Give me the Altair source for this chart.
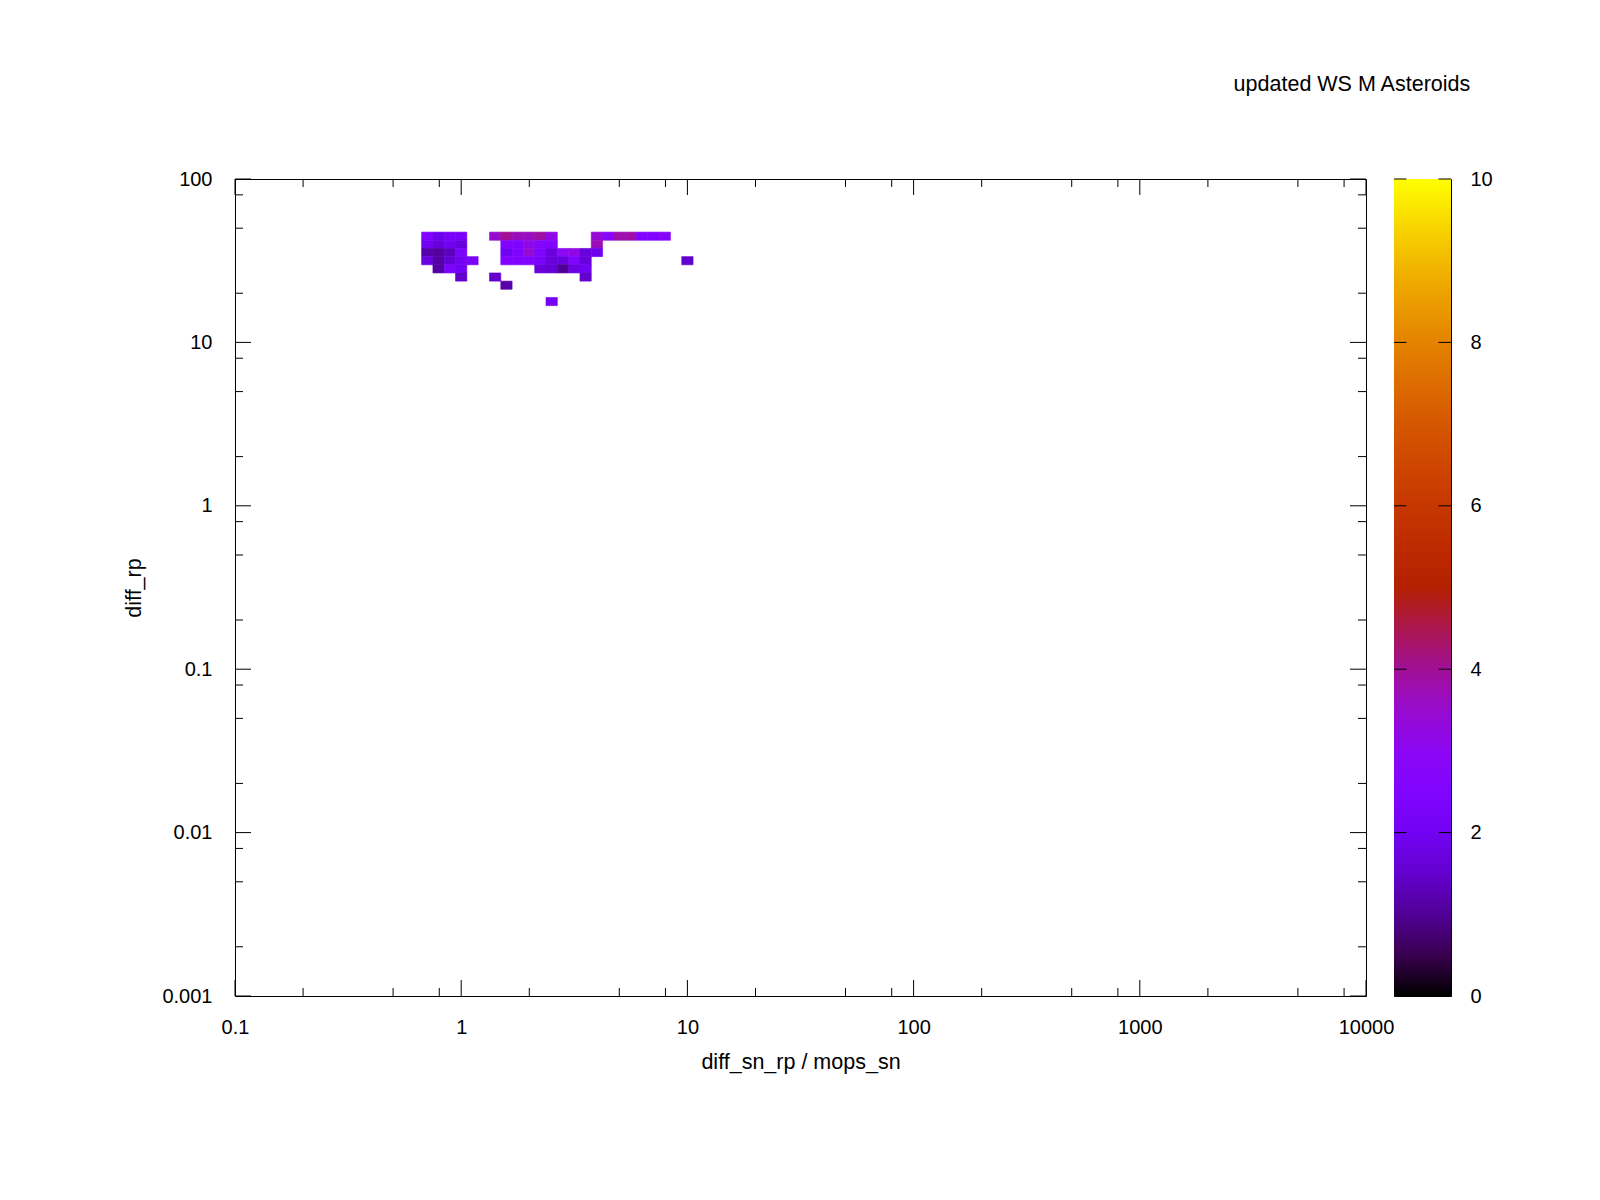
import altair as alt
import numpy as np
import pandas as pd

FONT = "Liberation Sans"

TITLE = "updated WS M Asteroids"
X_TITLE = "diff_sn_rp / mops_sn"
Y_TITLE = "diff_rp"

X_DOMAIN = [0.1, 10000]
Y_DOMAIN = [0.001, 100]
CB_DOMAIN = [0, 10]

X_MAJOR = [0.1, 1, 10, 100, 1000, 10000]
Y_MAJOR = [0.001, 0.01, 0.1, 1, 10, 100]
CB_TICKS = [0, 2, 4, 6, 8, 10]
MINOR_STEPS = [2, 5, 8]

# 2d histogram, bins 0.05 wide in log10 on both axes
BIN = 0.05
X_FIRST = -0.15  # log10 centre of column 0
Y_FIRST = 1.65   # log10 centre of row 0 (top row)

ROW = (
    [0] * 17
    + [1] * 10
    + [2] * 13
    + [3] * 14
    + [4] * 8
    + [5] * 3
    + [6]
    + [8]
)
COL = [
    0, 1, 2, 3, 6, 7, 8, 9, 10, 11, 15, 16, 17, 18, 19, 20, 21,
    0, 1, 2, 3, 7, 8, 9, 10, 11, 15,
    0, 1, 2, 3, 7, 8, 9, 10, 11, 12, 13, 14, 15,
    0, 1, 2, 3, 4, 7, 8, 9, 10, 11, 12, 13, 14, 23,
    1, 2, 3, 10, 11, 12, 13, 14,
    3, 6, 14,
    7,
    11,
]
VAL = [
    2.5, 1.9, 2.2, 2.2, 3.5, 4.0, 3.7, 3.6, 3.9, 3.2, 3.4, 2.8, 3.8, 3.8, 2.5, 2.5, 2.8,
    2.0, 1.7, 2.0, 1.7, 2.5, 2.5, 3.2, 2.7, 2.5, 3.7,
    1.15, 1.1, 1.35, 2.3, 2.0, 2.5, 3.4, 2.5, 1.7, 3.0, 3.2, 1.7, 1.9,
    1.8, 1.15, 1.6, 2.0, 2.3, 2.5, 2.5, 2.5, 2.3, 1.7, 1.7, 2.5, 1.7, 1.5,
    1.15, 2.3, 2.0, 1.7, 1.6, 1.0, 1.8, 2.0,
    1.5, 1.5, 1.5,
    1.2,
    2.1,
]

# gnuplot default pm3d palette (rgbformulae 7,5,15), sampled every 0.5
PALETTE = [
    "#000000", "#39004f", "#510096", "#6301ce", "#7202f3", "#8004ff", "#8c07f3",
    "#970bce", "#a11096", "#ab174f", "#b42000", "#bd2a00", "#c63700", "#ce4600",
    "#d55700", "#dd6c00", "#e48300", "#eb9d00", "#f2ba00", "#f9db00", "#ffff00",
]

W, H = 1131, 817
CB_W = 57
MAJOR_LEN, MINOR_LEN, CB_TICK_LEN = 16, 8, 12.5
LABEL_SIZE, TITLE_SIZE = 20, 21.5


def minor(majors):
    return [d * m for d in majors[:-1] for m in MINOR_STEPS]


cells = pd.DataFrame({"row": ROW, "col": COL, "count": VAL})
lx = X_FIRST + cells["col"] * BIN
ly = Y_FIRST - cells["row"] * BIN
cells["x_lo"] = 10 ** (lx - BIN / 2)
cells["x_hi"] = 10 ** (lx + BIN / 2)
cells["y_lo"] = 10 ** (ly - BIN / 2)
cells["y_hi"] = 10 ** (ly + BIN / 2)

x_scale = alt.Scale(type="log", domain=X_DOMAIN, nice=False)
y_scale = alt.Scale(type="log", domain=Y_DOMAIN, nice=False)
cb_scale = alt.Scale(domain=CB_DOMAIN, nice=False)
color_scale = alt.Scale(
    domain=list(np.linspace(CB_DOMAIN[0], CB_DOMAIN[1], len(PALETTE))),
    range=PALETTE,
    interpolate="rgb",
)

heat = alt.Chart(cells).mark_rect(strokeWidth=0.6).encode(
    x=alt.X(
        "x_lo:Q",
        scale=x_scale,
        axis=alt.Axis(
            values=X_MAJOR, format="~g", ticks=False, tickSize=0, domain=False, grid=False,
            labelFontSize=LABEL_SIZE, labelPadding=21.5, labelFlush=False,
            title=X_TITLE, titleFontSize=TITLE_SIZE, titleFontWeight="normal", titlePadding=14,
        ),
    ),
    x2="x_hi",
    y=alt.Y(
        "y_lo:Q",
        scale=y_scale,
        axis=alt.Axis(
            values=Y_MAJOR, format="~g", ticks=False, tickSize=0, domain=False, grid=False,
            labelFontSize=LABEL_SIZE, labelPadding=23, labelFlush=False,
            title=Y_TITLE, titleFontSize=TITLE_SIZE, titleFontWeight="normal",
            titleX=-101, titleBaseline="middle",
        ),
    ),
    y2="y_hi",
    color=alt.Color("count:Q", scale=color_scale, legend=None),
    stroke=alt.Stroke("count:Q", scale=color_scale, legend=None),
)


def x_ticks(values, size):
    base = alt.Chart(pd.DataFrame({"v": values})).mark_rule(color="black", strokeWidth=1)
    x = alt.X("v:Q", scale=x_scale)
    bottom = base.encode(x=x, y=alt.value(H), y2=alt.value(H - size))
    top = base.encode(x=x, y=alt.value(0), y2=alt.value(size))
    return [bottom, top]


def y_ticks(values, size, width, scale):
    base = alt.Chart(pd.DataFrame({"v": values})).mark_rule(color="black", strokeWidth=1)
    y = alt.Y("v:Q", scale=scale)
    left = base.encode(y=y, x=alt.value(0), x2=alt.value(size))
    right = base.encode(y=y, x=alt.value(width), x2=alt.value(width - size))
    return [left, right]


main = alt.layer(
    heat,
    *x_ticks(X_MAJOR, MAJOR_LEN),
    *x_ticks(minor(X_MAJOR), MINOR_LEN),
    *y_ticks(Y_MAJOR, MAJOR_LEN, W, y_scale),
    *y_ticks(minor(Y_MAJOR), MINOR_LEN, W, y_scale),
).properties(width=W, height=H)

gradient = alt.Gradient(
    gradient="linear",
    stops=[alt.GradientStop(color=c, offset=i / (len(PALETTE) - 1)) for i, c in enumerate(PALETTE)],
    x1=0, x2=0, y1=1, y2=0,
)
cb_bar = alt.Chart(pd.DataFrame({"lo": [CB_DOMAIN[0]], "hi": [CB_DOMAIN[1]]})).mark_rect(
    color=gradient
).encode(
    x=alt.value(0),
    x2=alt.value(CB_W),
    y=alt.Y(
        "lo:Q",
        scale=cb_scale,
        axis=alt.Axis(
            orient="right", values=CB_TICKS, format="d", ticks=False, tickSize=0,
            domain=False, grid=False, labelFontSize=LABEL_SIZE, labelPadding=19,
            labelFlush=False, title=None,
        ),
    ),
    y2="hi",
)
colorbar = alt.layer(cb_bar, *y_ticks(CB_TICKS, CB_TICK_LEN, CB_W, cb_scale)).properties(
    width=CB_W, height=H
)

chart = (
    alt.hconcat(main, colorbar, spacing=28, bounds="flush")
    .properties(
        title=alt.Title(
            TITLE, anchor="end", fontSize=TITLE_SIZE, font=FONT, fontWeight="normal",
            color="black", offset=73.5, dx=-22.5,
        ),
        padding={"left": 114, "top": 65, "right": 10, "bottom": 10},
    )
    .configure_view(stroke="black", strokeWidth=1)
    .configure_axis(labelFont=FONT, titleFont=FONT, labelColor="black", titleColor="black")
)

chart.save("out.html", embed_options={"renderer": "svg", "actions": False})
